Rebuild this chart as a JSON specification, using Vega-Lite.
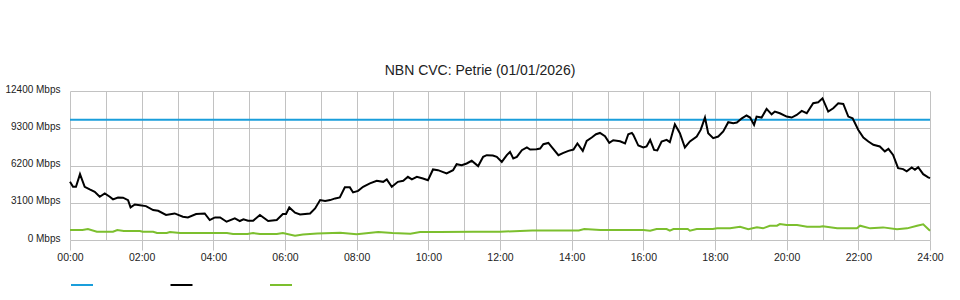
{
  "$schema": "https://vega.github.io/schema/vega-lite/v6.json",
  "width": 860,
  "height": 149,
  "autosize": {"type": "none"},
  "padding": {"left": 70, "top": 91, "right": 30, "bottom": 60},
  "title": {"text": "NBN CVC: Petrie (01/01/2026)", "font": "Liberation Sans", "fontSize": 14, "fontWeight": "normal", "color": "#222222", "offset": 6, "dx": -20},
  "config": {"view": {"stroke": null}, "font": "Liberation Sans"},
  "data": {"values": [
    {"t": 0, "v": 10000, "s": "Capacity"}, {"t": 24, "v": 10000, "s": "Capacity"},
    {"t": 0, "v": 4840, "s": "Download"}, {"t": 0.084, "v": 4430, "s": "Download"}, {"t": 0.167, "v": 4430, "s": "Download"}, {"t": 0.279, "v": 5480, "s": "Download"}, {"t": 0.41, "v": 4430, "s": "Download"}, {"t": 0.55, "v": 4210, "s": "Download"}, {"t": 0.69, "v": 4010, "s": "Download"}, {"t": 0.83, "v": 3600, "s": "Download"}, {"t": 0.97, "v": 3880, "s": "Download"}, {"t": 1.11, "v": 3600, "s": "Download"}, {"t": 1.2, "v": 3380, "s": "Download"}, {"t": 1.34, "v": 3540, "s": "Download"}, {"t": 1.48, "v": 3520, "s": "Download"}, {"t": 1.62, "v": 3320, "s": "Download"}, {"t": 1.69, "v": 2710, "s": "Download"}, {"t": 1.81, "v": 2960, "s": "Download"}, {"t": 1.95, "v": 2900, "s": "Download"}, {"t": 2.12, "v": 2820, "s": "Download"}, {"t": 2.32, "v": 2490, "s": "Download"}, {"t": 2.46, "v": 2430, "s": "Download"}, {"t": 2.68, "v": 2080, "s": "Download"}, {"t": 2.92, "v": 2210, "s": "Download"}, {"t": 3.15, "v": 1940, "s": "Download"}, {"t": 3.29, "v": 1880, "s": "Download"}, {"t": 3.52, "v": 2160, "s": "Download"}, {"t": 3.76, "v": 2210, "s": "Download"}, {"t": 3.9, "v": 1660, "s": "Download"}, {"t": 3.99, "v": 1800, "s": "Download"},
    {"t": 4.05, "v": 1880, "s": "Download"}, {"t": 4.19, "v": 1880, "s": "Download"}, {"t": 4.37, "v": 1520, "s": "Download"}, {"t": 4.6, "v": 1800, "s": "Download"}, {"t": 4.74, "v": 1580, "s": "Download"}, {"t": 4.84, "v": 1720, "s": "Download"}, {"t": 4.97, "v": 1600, "s": "Download"}, {"t": 5.11, "v": 1600, "s": "Download"}, {"t": 5.3, "v": 2080, "s": "Download"}, {"t": 5.53, "v": 1580, "s": "Download"}, {"t": 5.77, "v": 1660, "s": "Download"}, {"t": 5.94, "v": 2160, "s": "Download"}, {"t": 6.03, "v": 2160, "s": "Download"}, {"t": 6.12, "v": 2710, "s": "Download"}, {"t": 6.28, "v": 2270, "s": "Download"}, {"t": 6.42, "v": 2130, "s": "Download"}, {"t": 6.7, "v": 2210, "s": "Download"}, {"t": 6.84, "v": 2630, "s": "Download"}, {"t": 6.98, "v": 3320, "s": "Download"}, {"t": 7.12, "v": 3240, "s": "Download"}, {"t": 7.26, "v": 3320, "s": "Download"}, {"t": 7.4, "v": 3460, "s": "Download"}, {"t": 7.53, "v": 3540, "s": "Download"}, {"t": 7.67, "v": 4380, "s": "Download"}, {"t": 7.81, "v": 4380, "s": "Download"}, {"t": 7.9, "v": 3960, "s": "Download"},
    {"t": 8.04, "v": 4090, "s": "Download"}, {"t": 8.18, "v": 4430, "s": "Download"}, {"t": 8.37, "v": 4710, "s": "Download"}, {"t": 8.56, "v": 4930, "s": "Download"}, {"t": 8.74, "v": 4840, "s": "Download"}, {"t": 8.84, "v": 5040, "s": "Download"}, {"t": 8.98, "v": 4430, "s": "Download"}, {"t": 9.15, "v": 4840, "s": "Download"}, {"t": 9.3, "v": 4930, "s": "Download"}, {"t": 9.43, "v": 5260, "s": "Download"}, {"t": 9.54, "v": 5040, "s": "Download"}, {"t": 9.68, "v": 5260, "s": "Download"}, {"t": 9.85, "v": 5120, "s": "Download"}, {"t": 9.99, "v": 4980, "s": "Download"}, {"t": 10.13, "v": 5870, "s": "Download"}, {"t": 10.27, "v": 5810, "s": "Download"}, {"t": 10.51, "v": 5540, "s": "Download"}, {"t": 10.69, "v": 5810, "s": "Download"}, {"t": 10.79, "v": 6310, "s": "Download"}, {"t": 10.93, "v": 6230, "s": "Download"}, {"t": 11.07, "v": 6370, "s": "Download"}, {"t": 11.21, "v": 6590, "s": "Download"}, {"t": 11.39, "v": 6150, "s": "Download"}, {"t": 11.53, "v": 6920, "s": "Download"}, {"t": 11.63, "v": 7060, "s": "Download"}, {"t": 11.8, "v": 7030, "s": "Download"},
    {"t": 11.91, "v": 6920, "s": "Download"}, {"t": 12.05, "v": 6500, "s": "Download"}, {"t": 12.19, "v": 7060, "s": "Download"}, {"t": 12.28, "v": 7330, "s": "Download"}, {"t": 12.37, "v": 6790, "s": "Download"}, {"t": 12.47, "v": 6920, "s": "Download"}, {"t": 12.61, "v": 7470, "s": "Download"}, {"t": 12.75, "v": 7700, "s": "Download"}, {"t": 12.84, "v": 7530, "s": "Download"}, {"t": 13.02, "v": 7560, "s": "Download"}, {"t": 13.12, "v": 7610, "s": "Download"}, {"t": 13.21, "v": 7970, "s": "Download"}, {"t": 13.35, "v": 8080, "s": "Download"}, {"t": 13.44, "v": 7750, "s": "Download"}, {"t": 13.63, "v": 7060, "s": "Download"}, {"t": 13.77, "v": 7250, "s": "Download"}, {"t": 13.91, "v": 7420, "s": "Download"}, {"t": 14.05, "v": 7530, "s": "Download"}, {"t": 14.16, "v": 8030, "s": "Download"}, {"t": 14.31, "v": 7420, "s": "Download"}, {"t": 14.42, "v": 8250, "s": "Download"}, {"t": 14.56, "v": 8530, "s": "Download"}, {"t": 14.68, "v": 8800, "s": "Download"}, {"t": 14.79, "v": 8910, "s": "Download"}, {"t": 14.93, "v": 8640, "s": "Download"}, {"t": 15.05, "v": 8080, "s": "Download"}, {"t": 15.16, "v": 8300, "s": "Download"}, {"t": 15.35, "v": 8220, "s": "Download"}, {"t": 15.49, "v": 8030, "s": "Download"}, {"t": 15.58, "v": 8800, "s": "Download"}, {"t": 15.68, "v": 8910, "s": "Download"},
    {"t": 15.72, "v": 8750, "s": "Download"}, {"t": 15.86, "v": 7860, "s": "Download"}, {"t": 16.0, "v": 7700, "s": "Download"}, {"t": 16.09, "v": 7780, "s": "Download"}, {"t": 16.19, "v": 8330, "s": "Download"}, {"t": 16.3, "v": 7500, "s": "Download"}, {"t": 16.39, "v": 7450, "s": "Download"}, {"t": 16.51, "v": 8200, "s": "Download"}, {"t": 16.65, "v": 8330, "s": "Download"}, {"t": 16.74, "v": 8140, "s": "Download"}, {"t": 16.88, "v": 9630, "s": "Download"}, {"t": 17.02, "v": 8890, "s": "Download"}, {"t": 17.16, "v": 7700, "s": "Download"}, {"t": 17.3, "v": 8200, "s": "Download"}, {"t": 17.49, "v": 8610, "s": "Download"}, {"t": 17.6, "v": 9160, "s": "Download"}, {"t": 17.72, "v": 10190, "s": "Download"}, {"t": 17.81, "v": 8890, "s": "Download"}, {"t": 17.95, "v": 8470, "s": "Download"}, {"t": 18.09, "v": 8610, "s": "Download"}, {"t": 18.23, "v": 9030, "s": "Download"}, {"t": 18.37, "v": 9800, "s": "Download"}, {"t": 18.51, "v": 9720, "s": "Download"}, {"t": 18.61, "v": 9770, "s": "Download"}, {"t": 18.75, "v": 10130, "s": "Download"}, {"t": 18.88, "v": 10360, "s": "Download"}, {"t": 18.98, "v": 10190, "s": "Download"}, {"t": 19.09, "v": 9580, "s": "Download"}, {"t": 19.16, "v": 10270, "s": "Download"}, {"t": 19.3, "v": 10190, "s": "Download"}, {"t": 19.44, "v": 10910, "s": "Download"}, {"t": 19.58, "v": 10460, "s": "Download"}, {"t": 19.67, "v": 10690, "s": "Download"},
    {"t": 19.81, "v": 10550, "s": "Download"}, {"t": 20.0, "v": 10270, "s": "Download"}, {"t": 20.14, "v": 10190, "s": "Download"}, {"t": 20.28, "v": 10410, "s": "Download"}, {"t": 20.42, "v": 10740, "s": "Download"}, {"t": 20.56, "v": 10550, "s": "Download"}, {"t": 20.74, "v": 11380, "s": "Download"}, {"t": 20.88, "v": 11460, "s": "Download"}, {"t": 21.0, "v": 11790, "s": "Download"}, {"t": 21.16, "v": 10690, "s": "Download"}, {"t": 21.3, "v": 10960, "s": "Download"}, {"t": 21.44, "v": 11380, "s": "Download"}, {"t": 21.58, "v": 11320, "s": "Download"}, {"t": 21.72, "v": 10270, "s": "Download"}, {"t": 21.84, "v": 10130, "s": "Download"}, {"t": 22.0, "v": 9160, "s": "Download"}, {"t": 22.14, "v": 8530, "s": "Download"}, {"t": 22.28, "v": 8200, "s": "Download"}, {"t": 22.42, "v": 7920, "s": "Download"}, {"t": 22.6, "v": 7780, "s": "Download"}, {"t": 22.74, "v": 7370, "s": "Download"}, {"t": 22.84, "v": 7580, "s": "Download"}, {"t": 22.97, "v": 7080, "s": "Download"}, {"t": 23.11, "v": 5980, "s": "Download"}, {"t": 23.25, "v": 5900, "s": "Download"}, {"t": 23.35, "v": 5710, "s": "Download"}, {"t": 23.49, "v": 6040, "s": "Download"}, {"t": 23.58, "v": 5840, "s": "Download"}, {"t": 23.67, "v": 6060, "s": "Download"}, {"t": 23.81, "v": 5480, "s": "Download"}, {"t": 23.95, "v": 5210, "s": "Download"}, {"t": 24.0, "v": 5150, "s": "Download"},
    {"t": 0, "v": 830, "s": "Upload"}, {"t": 0.35, "v": 830, "s": "Upload"}, {"t": 0.5, "v": 910, "s": "Upload"}, {"t": 0.75, "v": 690, "s": "Upload"}, {"t": 1.2, "v": 690, "s": "Upload"}, {"t": 1.32, "v": 830, "s": "Upload"}, {"t": 1.5, "v": 750, "s": "Upload"}, {"t": 1.95, "v": 750, "s": "Upload"}, {"t": 2.03, "v": 690, "s": "Upload"}, {"t": 2.32, "v": 690, "s": "Upload"}, {"t": 2.43, "v": 580, "s": "Upload"}, {"t": 2.7, "v": 580, "s": "Upload"}, {"t": 2.79, "v": 660, "s": "Upload"}, {"t": 3.07, "v": 580, "s": "Upload"}, {"t": 4.38, "v": 580, "s": "Upload"}, {"t": 4.55, "v": 500, "s": "Upload"}, {"t": 4.95, "v": 500, "s": "Upload"}, {"t": 5.11, "v": 580, "s": "Upload"}, {"t": 5.3, "v": 500, "s": "Upload"}, {"t": 5.77, "v": 500, "s": "Upload"}, {"t": 5.94, "v": 580, "s": "Upload"}, {"t": 6.28, "v": 360, "s": "Upload"}, {"t": 6.5, "v": 450, "s": "Upload"}, {"t": 6.9, "v": 550, "s": "Upload"}, {"t": 7.54, "v": 610, "s": "Upload"}, {"t": 8.0, "v": 470, "s": "Upload"}, {"t": 8.6, "v": 660, "s": "Upload"}, {"t": 9.0, "v": 580, "s": "Upload"}, {"t": 9.5, "v": 530, "s": "Upload"}, {"t": 9.77, "v": 660, "s": "Upload"}, {"t": 10.32, "v": 660, "s": "Upload"}, {"t": 11.25, "v": 690, "s": "Upload"}, {"t": 12.0, "v": 690, "s": "Upload"}, {"t": 12.9, "v": 800, "s": "Upload"}, {"t": 14.2, "v": 800, "s": "Upload"}, {"t": 14.35, "v": 910, "s": "Upload"}, {"t": 14.8, "v": 830, "s": "Upload"}, {"t": 16.0, "v": 830, "s": "Upload"}, {"t": 16.19, "v": 770, "s": "Upload"}, {"t": 16.37, "v": 910, "s": "Upload"}, {"t": 16.65, "v": 910, "s": "Upload"}, {"t": 16.74, "v": 770, "s": "Upload"}, {"t": 16.84, "v": 910, "s": "Upload"}, {"t": 17.24, "v": 910, "s": "Upload"}, {"t": 17.3, "v": 770, "s": "Upload"}, {"t": 17.49, "v": 910, "s": "Upload"}, {"t": 17.94, "v": 910, "s": "Upload"}, {"t": 18.06, "v": 970, "s": "Upload"}, {"t": 18.42, "v": 970, "s": "Upload"}, {"t": 18.7, "v": 1100, "s": "Upload"}, {"t": 18.93, "v": 890, "s": "Upload"}, {"t": 19.17, "v": 1050, "s": "Upload"}, {"t": 19.34, "v": 970, "s": "Upload"}, {"t": 19.53, "v": 1190, "s": "Upload"}, {"t": 19.73, "v": 1190, "s": "Upload"}, {"t": 19.81, "v": 1330, "s": "Upload"}, {"t": 20.0, "v": 1250, "s": "Upload"}, {"t": 20.29, "v": 1250, "s": "Upload"}, {"t": 20.57, "v": 1100, "s": "Upload"}, {"t": 20.93, "v": 1100, "s": "Upload"}, {"t": 21.01, "v": 1150, "s": "Upload"}, {"t": 21.41, "v": 970, "s": "Upload"}, {"t": 21.96, "v": 970, "s": "Upload"}, {"t": 22.05, "v": 1190, "s": "Upload"}, {"t": 22.33, "v": 970, "s": "Upload"}, {"t": 22.69, "v": 1050, "s": "Upload"}, {"t": 23.08, "v": 890, "s": "Upload"}, {"t": 23.36, "v": 970, "s": "Upload"}, {"t": 23.64, "v": 1190, "s": "Upload"}, {"t": 23.81, "v": 1300, "s": "Upload"}, {"t": 24.0, "v": 770, "s": "Upload"}
  ]},
  "mark": {"type": "line", "strokeWidth": 2, "interpolate": "linear"},
  "encoding": {
    "x": {"field": "t", "type": "quantitative", "title": null,
      "scale": {"domain": [0, 24], "nice": false, "zero": false},
      "axis": {"values": [0,1,2,3,4,5,6,7,8,9,10,11,12,13,14,15,16,17,18,19,20,21,22,23,24],
        "labelExpr": "datum.value % 2 == 0 ? (datum.value < 10 ? '0' : '') + datum.value + ':00' : ''",
        "grid": true, "gridColor": "#c2c2c2", "gridWidth": 1, "domain": false,
        "tickColor": "#c2c2c2", "tickSize": 10, "tickOpacity": {"condition": {"test": "datum.value % 2 == 1", "value": 0}, "value": 1},
        "labelFont": "Liberation Sans", "labelFontSize": 10.5, "labelColor": "#222222", "labelPadding": 2, "labelFlush": false, "labelOverlap": false}},
    "y": {"field": "v", "type": "quantitative", "title": null,
      "scale": {"domain": [0, 12400], "nice": false},
      "axis": {"values": [0, 3100, 6200, 9300, 12400], "labelExpr": "datum.value + ' Mbps'",
        "grid": true, "gridColor": "#c2c2c2", "gridWidth": 1, "domain": false, "ticks": false,
        "labelFont": "Liberation Sans", "labelFontSize": 10, "labelColor": "#222222", "labelPadding": 10, "labelOffset": -2}},
    "color": {"field": "s", "type": "nominal",
      "scale": {"domain": ["Capacity", "Download", "Upload"], "range": ["#1a9edb", "#000000", "#7cbf2e"]},
      "legend": {"orient": "none", "legendX": 0, "legendY": 182, "direction": "horizontal", "title": null,
        "symbolType": "stroke", "symbolSize": 484, "symbolStrokeWidth": 2, "labelExpr": "''", "labelOffset": 0, "columnPadding": 69.5, "padding": 0}}
  }
}
